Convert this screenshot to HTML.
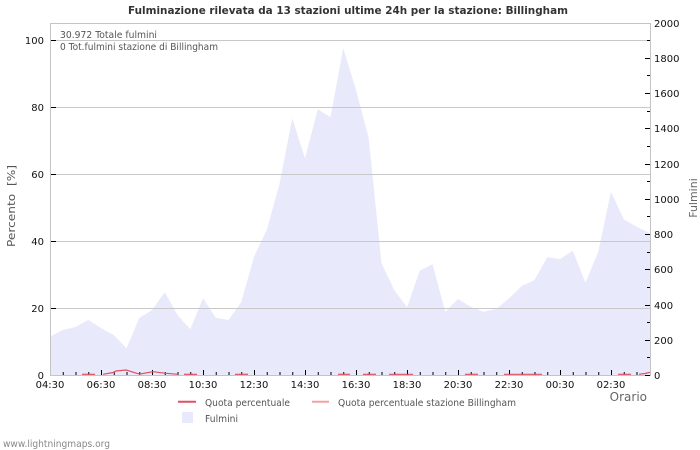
<!DOCTYPE html>
<html><head><meta charset="utf-8"><style>
html,body{margin:0;padding:0;background:#fff;}
svg{display:block;font-family:"DejaVu Sans","Liberation Sans",sans-serif;}
</style></head><body>
<svg width="700" height="450" viewBox="0 0 700 450" xmlns="http://www.w3.org/2000/svg">
<rect x="0" y="0" width="700" height="450" fill="#fff"/>
<text x="348" y="14" font-size="11" font-weight="bold" fill="#333" text-anchor="middle" textLength="440" lengthAdjust="spacingAndGlyphs">Fulminazione rilevata da 13 stazioni ultime 24h per la stazione: Billingham</text>

<!-- area -->
<polygon fill="#e9e9fc" points="50,375 50,336.7 62.75,330 75.5,327 88.25,320 101,328 113.75,335 126.5,348.3 139.25,318 152,310 164.75,292.3 177.5,315 190.25,329.3 203,298.3 215.75,317.7 228.5,320 241.25,302 254,256.7 266.75,230 279.5,184 292.25,118.3 305,158.3 317.75,109.3 330.5,117.3 343.25,48.3 356,90 368.75,138.3 381.5,263.3 394.25,290 407,307.3 419.75,270.7 432.5,264.3 445.25,311.7 458,299 470.75,306.7 483.5,311.7 496.25,309 509,298.3 521.75,286 534.5,280 547.25,257.3 560,259 572.75,250.7 585.5,282.7 598.25,251.7 611,191.7 623.75,219.3 636.5,226.7 650,233.3 650,375"/>

<!-- grid -->
<g stroke="#c8c8c8" stroke-width="1">
<line x1="50" y1="40.5" x2="650" y2="40.5"/>
<line x1="50" y1="107.5" x2="650" y2="107.5"/>
<line x1="50" y1="174.5" x2="650" y2="174.5"/>
<line x1="50" y1="241.5" x2="650" y2="241.5"/>
<line x1="50" y1="308.5" x2="650" y2="308.5"/>
</g>
<!-- border -->
<g stroke="#c4c4c4" stroke-width="1" fill="none">
<line x1="50" y1="23.5" x2="650" y2="23.5"/>
<line x1="50.5" y1="23" x2="50.5" y2="375.5"/>
<line x1="650.5" y1="23" x2="650.5" y2="375.5"/>
<line x1="50" y1="375.5" x2="651" y2="375.5"/>
</g>

<!-- left ticks -->
<g stroke="#000" stroke-width="1">
<line x1="51" y1="40.5" x2="56" y2="40.5"/>
<line x1="51" y1="107.5" x2="56" y2="107.5"/>
<line x1="51" y1="174.5" x2="56" y2="174.5"/>
<line x1="51" y1="241.5" x2="56" y2="241.5"/>
<line x1="51" y1="308.5" x2="56" y2="308.5"/>
</g>
<g font-size="10" fill="#111" text-anchor="end">
<text x="44" y="44">100</text>
<text x="44" y="111">80</text>
<text x="44" y="178">60</text>
<text x="44" y="245">40</text>
<text x="44" y="312">20</text>
<text x="44" y="379">0</text>
</g>

<!-- right ticks -->
<g stroke="#000" stroke-width="1">
<line x1="645" y1="375.5" x2="650" y2="375.5"/>
<line x1="647" y1="357.5" x2="650" y2="357.5"/>
<line x1="645" y1="340.5" x2="650" y2="340.5"/>
<line x1="647" y1="322.5" x2="650" y2="322.5"/>
<line x1="645" y1="305.5" x2="650" y2="305.5"/>
<line x1="647" y1="287.5" x2="650" y2="287.5"/>
<line x1="645" y1="269.5" x2="650" y2="269.5"/>
<line x1="647" y1="252.5" x2="650" y2="252.5"/>
<line x1="645" y1="234.5" x2="650" y2="234.5"/>
<line x1="647" y1="216.5" x2="650" y2="216.5"/>
<line x1="645" y1="199.5" x2="650" y2="199.5"/>
<line x1="647" y1="181.5" x2="650" y2="181.5"/>
<line x1="645" y1="164.5" x2="650" y2="164.5"/>
<line x1="647" y1="146.5" x2="650" y2="146.5"/>
<line x1="645" y1="128.5" x2="650" y2="128.5"/>
<line x1="647" y1="111.5" x2="650" y2="111.5"/>
<line x1="645" y1="93.5" x2="650" y2="93.5"/>
<line x1="647" y1="75.5" x2="650" y2="75.5"/>
<line x1="645" y1="58.5" x2="650" y2="58.5"/>
<line x1="647" y1="40.5" x2="650" y2="40.5"/>
</g>
<g font-size="10" fill="#111">
<text x="654" y="379">0</text>
<text x="654" y="344">200</text>
<text x="654" y="309">400</text>
<text x="654" y="273">600</text>
<text x="654" y="238">800</text>
<text x="654" y="203">1000</text>
<text x="654" y="168">1200</text>
<text x="654" y="132">1400</text>
<text x="654" y="97">1600</text>
<text x="654" y="62">1800</text>
<text x="654" y="27">2000</text>
</g>

<!-- x ticks -->
<g stroke="#000" stroke-width="1">
<line x1="63.25" y1="372" x2="63.25" y2="375"/><line x1="76" y1="372" x2="76" y2="375"/><line x1="88.75" y1="372" x2="88.75" y2="375"/><line x1="101.5" y1="370" x2="101.5" y2="375"/>
<line x1="114.25" y1="372" x2="114.25" y2="375"/><line x1="127" y1="372" x2="127" y2="375"/><line x1="139.75" y1="372" x2="139.75" y2="375"/><line x1="152.5" y1="370" x2="152.5" y2="375"/>
<line x1="165.25" y1="372" x2="165.25" y2="375"/><line x1="178" y1="372" x2="178" y2="375"/><line x1="190.75" y1="372" x2="190.75" y2="375"/><line x1="203.5" y1="370" x2="203.5" y2="375"/>
<line x1="216.25" y1="372" x2="216.25" y2="375"/><line x1="229" y1="372" x2="229" y2="375"/><line x1="241.75" y1="372" x2="241.75" y2="375"/><line x1="254.5" y1="370" x2="254.5" y2="375"/>
<line x1="267.25" y1="372" x2="267.25" y2="375"/><line x1="280" y1="372" x2="280" y2="375"/><line x1="292.75" y1="372" x2="292.75" y2="375"/><line x1="305.5" y1="370" x2="305.5" y2="375"/>
<line x1="318.25" y1="372" x2="318.25" y2="375"/><line x1="331" y1="372" x2="331" y2="375"/><line x1="343.75" y1="372" x2="343.75" y2="375"/><line x1="356.5" y1="370" x2="356.5" y2="375"/>
<line x1="369.25" y1="372" x2="369.25" y2="375"/><line x1="382" y1="372" x2="382" y2="375"/><line x1="394.75" y1="372" x2="394.75" y2="375"/><line x1="407.5" y1="370" x2="407.5" y2="375"/>
<line x1="420.25" y1="372" x2="420.25" y2="375"/><line x1="433" y1="372" x2="433" y2="375"/><line x1="445.75" y1="372" x2="445.75" y2="375"/><line x1="458.5" y1="370" x2="458.5" y2="375"/>
<line x1="471.25" y1="372" x2="471.25" y2="375"/><line x1="484" y1="372" x2="484" y2="375"/><line x1="496.75" y1="372" x2="496.75" y2="375"/><line x1="509.5" y1="370" x2="509.5" y2="375"/>
<line x1="522.25" y1="372" x2="522.25" y2="375"/><line x1="535" y1="372" x2="535" y2="375"/><line x1="547.75" y1="372" x2="547.75" y2="375"/><line x1="560.5" y1="370" x2="560.5" y2="375"/>
<line x1="573.25" y1="372" x2="573.25" y2="375"/><line x1="586" y1="372" x2="586" y2="375"/><line x1="598.75" y1="372" x2="598.75" y2="375"/><line x1="611.5" y1="370" x2="611.5" y2="375"/>
<line x1="624.25" y1="372" x2="624.25" y2="375"/><line x1="637" y1="372" x2="637" y2="375"/>
</g>
<g font-size="10" fill="#111" text-anchor="middle">
<text x="50" y="388">04:30</text>
<text x="101" y="388">06:30</text>
<text x="152" y="388">08:30</text>
<text x="203" y="388">10:30</text>
<text x="254" y="388">12:30</text>
<text x="305" y="388">14:30</text>
<text x="356" y="388">16:30</text>
<text x="407" y="388">18:30</text>
<text x="458" y="388">20:30</text>
<text x="509" y="388">22:30</text>
<text x="560" y="388">00:30</text>
<text x="611" y="388">02:30</text>
</g>

<!-- red quota line -->
<g stroke="#e05060" stroke-width="1.2" fill="none">
<polyline points="82,374.3 95,374.3"/>
<polyline points="103,374.3 113,372.5 116,371 126,370 136.7,373.3 140,374 153,371.7 166,373.3 178,374.3"/>
<polyline points="184,374.3 197,374.3"/>
<polyline points="235,374.3 248,374.3"/>
<polyline points="338,374.3 350,374.3"/>
<polyline points="363,374.3 376,374.3"/>
<polyline points="389,374.3 413,374.3"/>
<polyline points="465,374.3 478,374.3"/>
<polyline points="504,374.3 542,374.3"/>
<polyline points="618,374.3 631,374.3"/>
<polyline points="639,374.3 645,373.5 650,372.3"/>
</g>

<!-- info text -->
<g font-size="9.5" fill="#555">
<text x="60" y="38" textLength="97" lengthAdjust="spacingAndGlyphs">30.972 Totale fulmini</text>
<text x="60" y="50" textLength="158" lengthAdjust="spacingAndGlyphs">0 Tot.fulmini stazione di Billingham</text>
</g>

<!-- axis titles -->
<text transform="translate(15,206) rotate(-90)" font-size="11" fill="#555" text-anchor="middle" xml:space="preserve" textLength="82" lengthAdjust="spacingAndGlyphs">Percento  [%]</text>
<text transform="translate(697,198) rotate(-90)" font-size="11" fill="#666" text-anchor="middle">Fulmini</text>
<text x="647" y="401" font-size="12" fill="#666" text-anchor="end">Orario</text>

<!-- legend -->
<line x1="178" y1="401.7" x2="196" y2="401.7" stroke="#e05060" stroke-width="2"/>
<text x="205" y="406" font-size="9.5" fill="#555" textLength="85" lengthAdjust="spacingAndGlyphs">Quota percentuale</text>
<line x1="312" y1="401.7" x2="329" y2="401.7" stroke="#f4a0a4" stroke-width="2"/>
<text x="338" y="406" font-size="9.5" fill="#555" textLength="178" lengthAdjust="spacingAndGlyphs">Quota percentuale stazione Billingham</text>
<rect x="182" y="412" width="11" height="11" fill="#e9e9fc"/>
<text x="205" y="422" font-size="9.5" fill="#555" textLength="33" lengthAdjust="spacingAndGlyphs">Fulmini</text>

<text x="3" y="447" font-size="10" fill="#888" textLength="107" lengthAdjust="spacingAndGlyphs">www.lightningmaps.org</text>
</svg>
</body></html>
